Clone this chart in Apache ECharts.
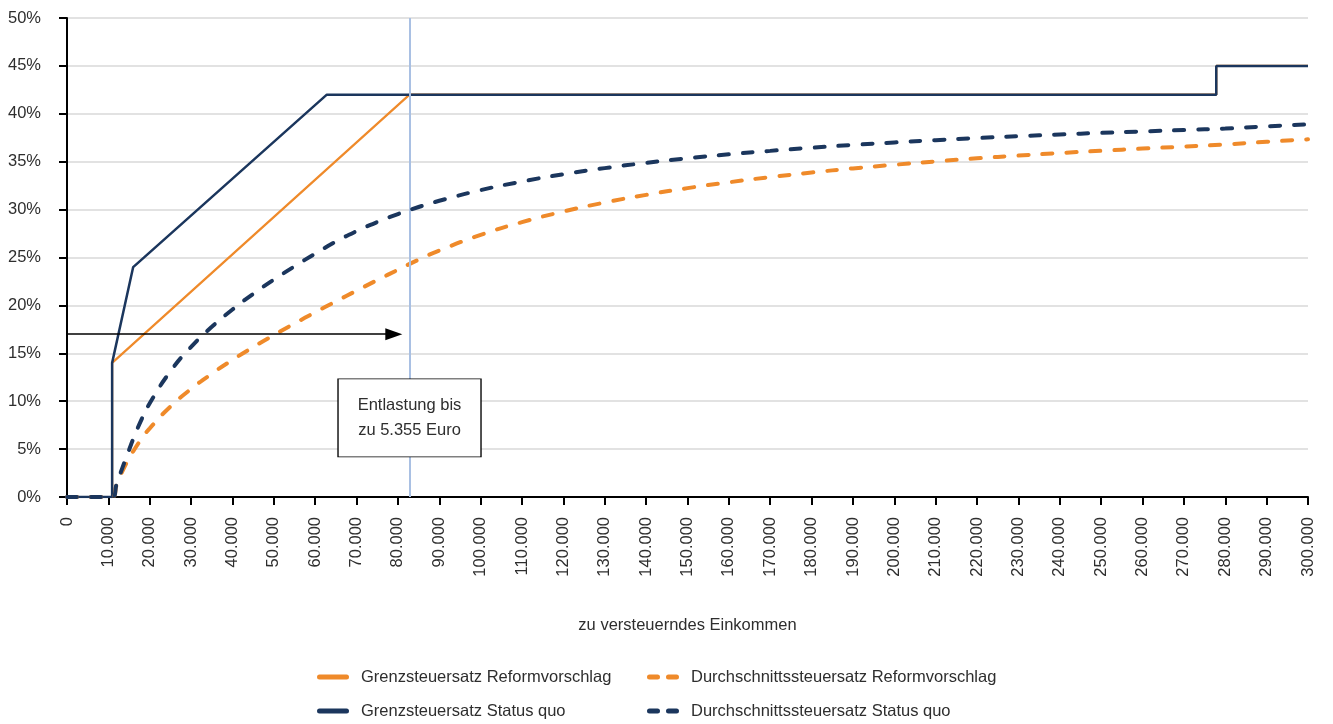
<!DOCTYPE html>
<html>
<head>
<meta charset="utf-8">
<script src="https://cdn.jsdelivr.net/npm/echarts@6/dist/echarts.min.js"></script>
<style>
html,body{margin:0;padding:0;background:#fff;}
#chart{width:1333px;height:724px;}
</style>
</head>
<body>
<div id="chart"></div>
<script>
// ---- Data ----
const seriesNames = [
  'Grenzsteuersatz Reformvorschlag',
  'Durchschnittssteuersatz Reformvorschlag',
  'Grenzsteuersatz Status quo',
  'Durchschnittssteuersatz Status quo'
];

// Marginal rates (Grenzsteuersatz), in %
const refMargIncome = [0, 10908, 10908, 82800, 277826, 277826, 300000];
const refMargRate   = [0, 0, 14, 42, 42, 45, 45];
const sqMargIncome  = [0, 10908, 10908, 15999, 62810, 277826, 277826, 300000];
const sqMargRate    = [0, 0, 14, 24, 42, 42, 45, 45];

// Average rates (Durchschnittssteuersatz), in %
const avgIncome = [0, 10908, 12000, 13000, 14000, 15000, 16000, 18000, 20000, 25000,
  30000, 35000, 40000, 45000, 50000, 55000, 60000, 65000, 70000, 75000, 80000, 85000,
  90000, 100000, 110000, 120000, 130000, 140000, 150000, 160000, 170000, 180000, 190000,
  200000, 210000, 220000, 230000, 240000, 250000, 260000, 270000, 280000, 290000, 300000];
const refAvgRate = [0, 0, 1.29, 2.32, 3.22, 4.04, 4.77, 6.06, 7.17, 9.44,
  11.28, 12.87, 14.31, 15.64, 16.90, 18.11, 19.28, 20.42, 21.54, 22.64, 23.72, 24.78,
  25.73, 27.36, 28.69, 29.80, 30.74, 31.54, 32.24, 32.85, 33.39, 33.87, 34.30,
  34.68, 35.03, 35.35, 35.64, 35.90, 36.14, 36.37, 36.58, 36.80, 37.08, 37.34];
const sqAvgRate = [0, 0, 1.37, 2.58, 3.76, 4.91, 6.04, 8.08, 9.78, 13.12,
  15.67, 17.76, 19.57, 21.20, 22.69, 24.08, 25.40, 26.66, 27.75, 28.70, 29.53, 30.27,
  30.92, 32.03, 32.93, 33.69, 34.33, 34.88, 35.35, 35.77, 36.13, 36.46, 36.75,
  37.01, 37.25, 37.47, 37.66, 37.84, 38.01, 38.16, 38.31, 38.46, 38.69, 38.90];

// Annotations
const reliefLimitIncome = 82800;      // vertical marker
const arrowRate = 17;                 // arrow height in %
const arrowEndIncome = 79000;
const boxRate = 8.25;
const boxText = 'Entlastung bis\nzu 5.355 Euro';
const xAxisName = 'zu versteuerndes Einkommen';

// ---- Chart ----
const FONT = '"Liberation Sans", Arial, sans-serif';
const TXT = '#2e2e2e';
const ORANGE = '#ef8a2a';
const NAVY = '#1b365d';
const LIGHTBLUE = '#a9c0e3';

function zip(xs, ys){ return xs.map((x,i)=>[x, ys[i]]); }
function fmtThousands(v){
  if (v === 0) return '0';
  return String(v).replace(/\B(?=(\d{3})+(?!\d))/g, '.');
}

const dashIcon = 'path://M2.5,0H10.5A2.5,2.5,0,0,1,10.5,5H2.5A2.5,2.5,0,0,1,2.5,0Z M21.5,0H29.5A2.5,2.5,0,0,1,29.5,5H21.5A2.5,2.5,0,0,1,21.5,0Z';
const solidIcon = 'path://M2.5,0H29.5A2.5,2.5,0,0,1,29.5,5H2.5A2.5,2.5,0,0,1,2.5,0Z';

function legendItem(name, icon, color, left, top){
  return {
    orient: 'horizontal',
    left: left, top: top, padding: 0,
    itemWidth: 32, itemHeight: 5,
    textStyle: { fontSize: 16.5, color: TXT, fontFamily: FONT, lineHeight: 20, padding: [0,0,0,7] },
    selectedMode: false,
    data: [{ name: name, icon: icon, itemStyle: { color: color } }]
  };
}

const chart = echarts.init(document.getElementById('chart'), null, { renderer: 'canvas' });
chart.setOption({
  animation: false,
  backgroundColor: '#ffffff',
  textStyle: { fontFamily: FONT },
  grid: { left: 67, right: 25, top: 18, bottom: 227, containLabel: false },
  legend: [
    legendItem(seriesNames[0], solidIcon, ORANGE, 317, 667),
    legendItem(seriesNames[2], solidIcon, NAVY, 317, 701),
    legendItem(seriesNames[1], dashIcon, ORANGE, 647, 667),
    legendItem(seriesNames[3], dashIcon, NAVY, 647, 701)
  ],
  xAxis: {
    type: 'value',
    min: 0, max: 300000, interval: 10000,
    name: xAxisName,
    nameLocation: 'middle',
    nameGap: 120,
    nameTextStyle: { fontSize: 16.5, color: TXT, fontFamily: FONT },
    axisLine: { show: true, onZero: false, lineStyle: { color: '#000', width: 2 } },
    axisTick: { show: true, length: 8, lineStyle: { color: '#000', width: 2 } },
    axisLabel: { rotate: 90, margin: 20, fontSize: 16.5, color: TXT, fontFamily: FONT, formatter: fmtThousands },
    splitLine: { show: false }
  },
  yAxis: {
    type: 'value',
    min: 0, max: 50, interval: 5,
    axisLine: { show: true, lineStyle: { color: '#000', width: 2 } },
    axisTick: { show: true, length: 8, lineStyle: { color: '#000', width: 2 } },
    axisLabel: { margin: 26, fontSize: 16.5, color: TXT, fontFamily: FONT, formatter: '{value}%' },
    splitLine: { show: true, lineStyle: { color: '#d9d9d9', width: 1.5 } }
  },
  series: [
    {
      name: 'marker', type: 'line', data: [], z: 1, silent: true,
      markLine: {
        silent: true, symbol: 'none', label: { show: false },
        lineStyle: { color: LIGHTBLUE, width: 2, type: 'solid' },
        data: [{ xAxis: reliefLimitIncome }]
      }
    },
    {
      name: seriesNames[0], type: 'line', z: 2,
      data: zip(refMargIncome, refMargRate),
      symbol: 'none', smooth: false,
      lineStyle: { color: ORANGE, width: 2.2 }, itemStyle: { color: ORANGE }
    },
    {
      name: seriesNames[2], type: 'line', z: 3,
      data: zip(sqMargIncome, sqMargRate),
      symbol: 'none', smooth: false,
      lineStyle: { color: NAVY, width: 2.5 }, itemStyle: { color: NAVY }
    },
    {
      name: seriesNames[1], type: 'line', z: 4,
      data: zip(avgIncome, refAvgRate),
      symbol: 'none', smooth: true,
      lineStyle: { color: ORANGE, width: 4, type: [10, 14], cap: 'round' }, itemStyle: { color: ORANGE }
    },
    {
      name: seriesNames[3], type: 'line', z: 5,
      data: zip(avgIncome, sqAvgRate),
      symbol: 'none', smooth: true,
      lineStyle: { color: NAVY, width: 4, type: [10, 14], cap: 'round' }, itemStyle: { color: NAVY }
    },
    {
      name: 'arrow', type: 'line', data: [], z: 6, silent: true,
      markLine: {
        silent: true, symbol: ['none', 'triangle'], symbolSize: [12, 17],
        label: { show: false },
        lineStyle: { color: '#000', width: 1.5, type: 'solid' },
        data: [[{ coord: [0, arrowRate] }, { coord: [arrowEndIncome, arrowRate] }]]
      }
    },
    {
      name: 'box', type: 'line', data: [], z: 10, silent: true,
      markPoint: {
        silent: true,
        symbol: 'rect', symbolSize: [143, 78],
        itemStyle: { color: '#ffffff', borderColor: '#000', borderWidth: 1 },
        label: { show: true, position: 'inside', formatter: boxText, fontSize: 16.5, lineHeight: 25, color: TXT, fontFamily: FONT, align: 'center' },
        data: [{ coord: [reliefLimitIncome, boxRate] }]
      }
    }
  ]
});
</script>
</body>
</html>
